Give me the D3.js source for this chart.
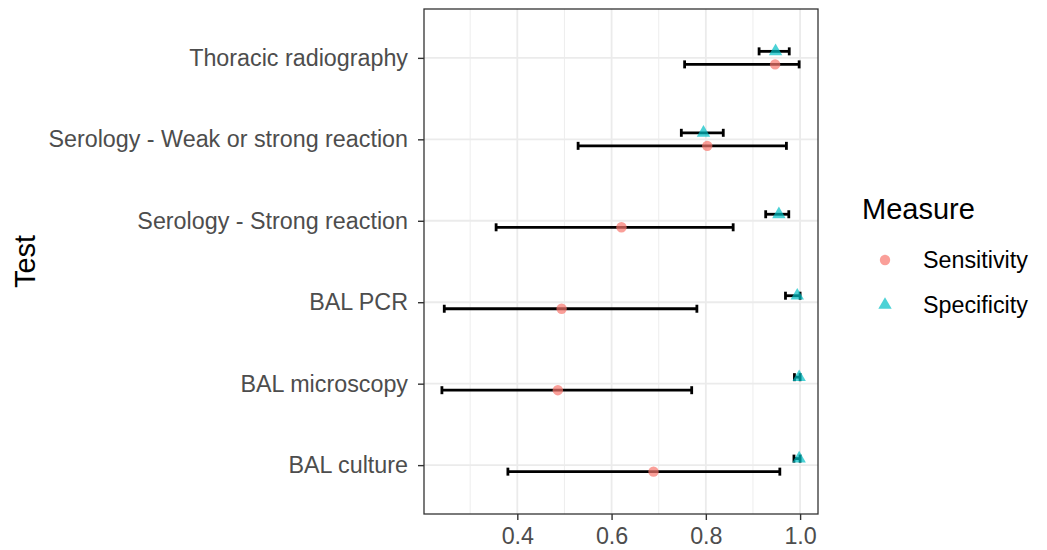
<!DOCTYPE html>
<html lang="en">
<head>
<meta charset="utf-8">
<title>Test accuracy</title>
<script src="https://d3js.org/d3.v7.min.js"></script>
<style>
  body { margin: 0; background: #fff; }
  text { font-family: "Liberation Sans", Arial, Helvetica, sans-serif; }
</style>
</head>
<body>
<script>
// tests, top to bottom
var tests = ["Thoracic radiography", "Serology - Weak or strong reaction", "Serology - Strong reaction",
             "BAL PCR", "BAL microscopy", "BAL culture"];

var sensitivity = [0.947, 0.803, 0.621, 0.494, 0.486, 0.689];
var sensLower   = [0.755, 0.529, 0.355, 0.245, 0.240, 0.380];
var sensUpper   = [0.998, 0.971, 0.858, 0.781, 0.770, 0.957];

var specificity = [0.948, 0.795, 0.955, 0.994, 0.998, 0.998];
var specLower   = [0.913, 0.748, 0.927, 0.969, 0.988, 0.987];
var specUpper   = [0.977, 0.837, 0.976, 1.000, 1.000, 1.000];

var xTicks = [0.4, 0.6, 0.8, 1.0];
var xMinor = [0.3, 0.5, 0.7, 0.9];

var measures = ["Sensitivity", "Specificity"];
var colors = { Sensitivity: "#F8766D", Specificity: "#00BFC4" };

var w = 1047, h = 550;
var margin = { left: 424, right: 229, top: 9, bottom: 36 };
var pw = w - margin.left - margin.right;
var ph = h - margin.top - margin.bottom;

var svg = d3.select("body").append("svg")
    .attr("width", w).attr("height", h);

// long form rows
var rows = [];
tests.forEach(function(t, i) {
  rows.push({ test: t, measure: "Sensitivity", est: sensitivity[i], lo: sensLower[i], hi: sensUpper[i] });
  rows.push({ test: t, measure: "Specificity", est: specificity[i], lo: specLower[i], hi: specUpper[i] });
});

var lo = d3.min(rows, function(d) { return d.lo; });
var hi = d3.max(rows, function(d) { return d.hi; });
var pad = (hi - lo) * 0.05;

var x = d3.scaleLinear().domain([lo - pad, hi + pad]).range([0, pw]);
var y = d3.scalePoint().domain(tests).range([0, ph]).padding(0.6);
var dodge = y.step() * 0.08;

var g = svg.append("g").attr("transform", "translate(" + margin.left + "," + margin.top + ")");

// gridlines
g.selectAll(".minor").data(xMinor).enter().append("line")
  .attr("x1", x).attr("x2", x).attr("y1", 0).attr("y2", ph)
  .attr("stroke", "#EBEBEB").attr("stroke-width", 0.9);
g.selectAll(".major").data(xTicks).enter().append("line")
  .attr("x1", x).attr("x2", x).attr("y1", 0).attr("y2", ph)
  .attr("stroke", "#EBEBEB").attr("stroke-width", 1.8);
g.selectAll(".hmajor").data(tests).enter().append("line")
  .attr("x1", 0).attr("x2", pw).attr("y1", y).attr("y2", y)
  .attr("stroke", "#EBEBEB").attr("stroke-width", 1.8);

function yPos(d) {
  return y(d.test) + (d.measure == "Sensitivity" ? dodge : -dodge);
}

// error bars
var cap = 4;
var eb = g.selectAll(".eb").data(rows).enter().append("g");
eb.append("line")
  .attr("x1", function(d) { return x(d.lo); })
  .attr("x2", function(d) { return x(d.hi); })
  .attr("y1", yPos).attr("y2", yPos);
eb.append("line")
  .attr("x1", function(d) { return x(d.lo); })
  .attr("x2", function(d) { return x(d.lo); })
  .attr("y1", function(d) { return yPos(d) - cap; })
  .attr("y2", function(d) { return yPos(d) + cap; });
eb.append("line")
  .attr("x1", function(d) { return x(d.hi); })
  .attr("x2", function(d) { return x(d.hi); })
  .attr("y1", function(d) { return yPos(d) - cap; })
  .attr("y2", function(d) { return yPos(d) + cap; });
eb.selectAll("line").attr("stroke", "#000").attr("stroke-width", 2.8);

// points
var circle = d3.symbol().type(d3.symbolCircle).size(85);
var tri = d3.symbol().type(d3.symbolTriangle).size(78);
g.selectAll(".pt").data(rows).enter().append("path")
  .attr("d", function(d) { return d.measure == "Sensitivity" ? circle() : tri(); })
  .attr("transform", function(d) { return "translate(" + x(d.est) + "," + yPos(d) + ")"; })
  .attr("fill", function(d) { return colors[d.measure]; })
  .attr("fill-opacity", 0.7);

// panel border
g.append("rect").attr("width", pw).attr("height", ph)
  .attr("fill", "none").attr("stroke", "#333333").attr("stroke-width", 1.3);

// axes
var xAxis = g.append("g").attr("transform", "translate(0," + ph + ")")
  .call(d3.axisBottom(x).tickValues(xTicks).tickFormat(d3.format(".1f")).tickSize(6).tickPadding(4));
var yAxis = g.append("g")
  .call(d3.axisLeft(y).tickSize(6).tickPadding(10));
[xAxis, yAxis].forEach(function(a) {
  a.select(".domain").remove();
  a.selectAll("line").attr("stroke", "#333333").attr("stroke-width", 1.4);
  a.selectAll("text").attr("fill", "#4D4D4D").style("font-size", "23.3px");
});
xAxis.selectAll("text").attr("dy", "0.85em");

// axis title
svg.append("text")
  .attr("transform", "translate(35," + (margin.top + ph / 2) + ") rotate(-90)")
  .attr("text-anchor", "middle")
  .style("font-size", "29px")
  .text("Test");

// legend
var lg = svg.append("g").attr("transform", "translate(862,0)");
lg.append("text").attr("x", 0).attr("y", 219).style("font-size", "29px").text("Measure");
var items = lg.selectAll(".item").data(measures).enter().append("g")
  .attr("transform", function(d, i) { return "translate(0," + (260 + i * 45) + ")"; });
items.append("path")
  .attr("d", function(d) { return d == "Sensitivity" ? circle() : tri(); })
  .attr("transform", "translate(23,0)")
  .attr("fill", function(d) { return colors[d]; })
  .attr("fill-opacity", 0.7);
items.append("text").attr("x", 61).attr("dy", "0.35em")
  .style("font-size", "23.3px").text(function(d) { return d; });
</script>
</body>
</html>
